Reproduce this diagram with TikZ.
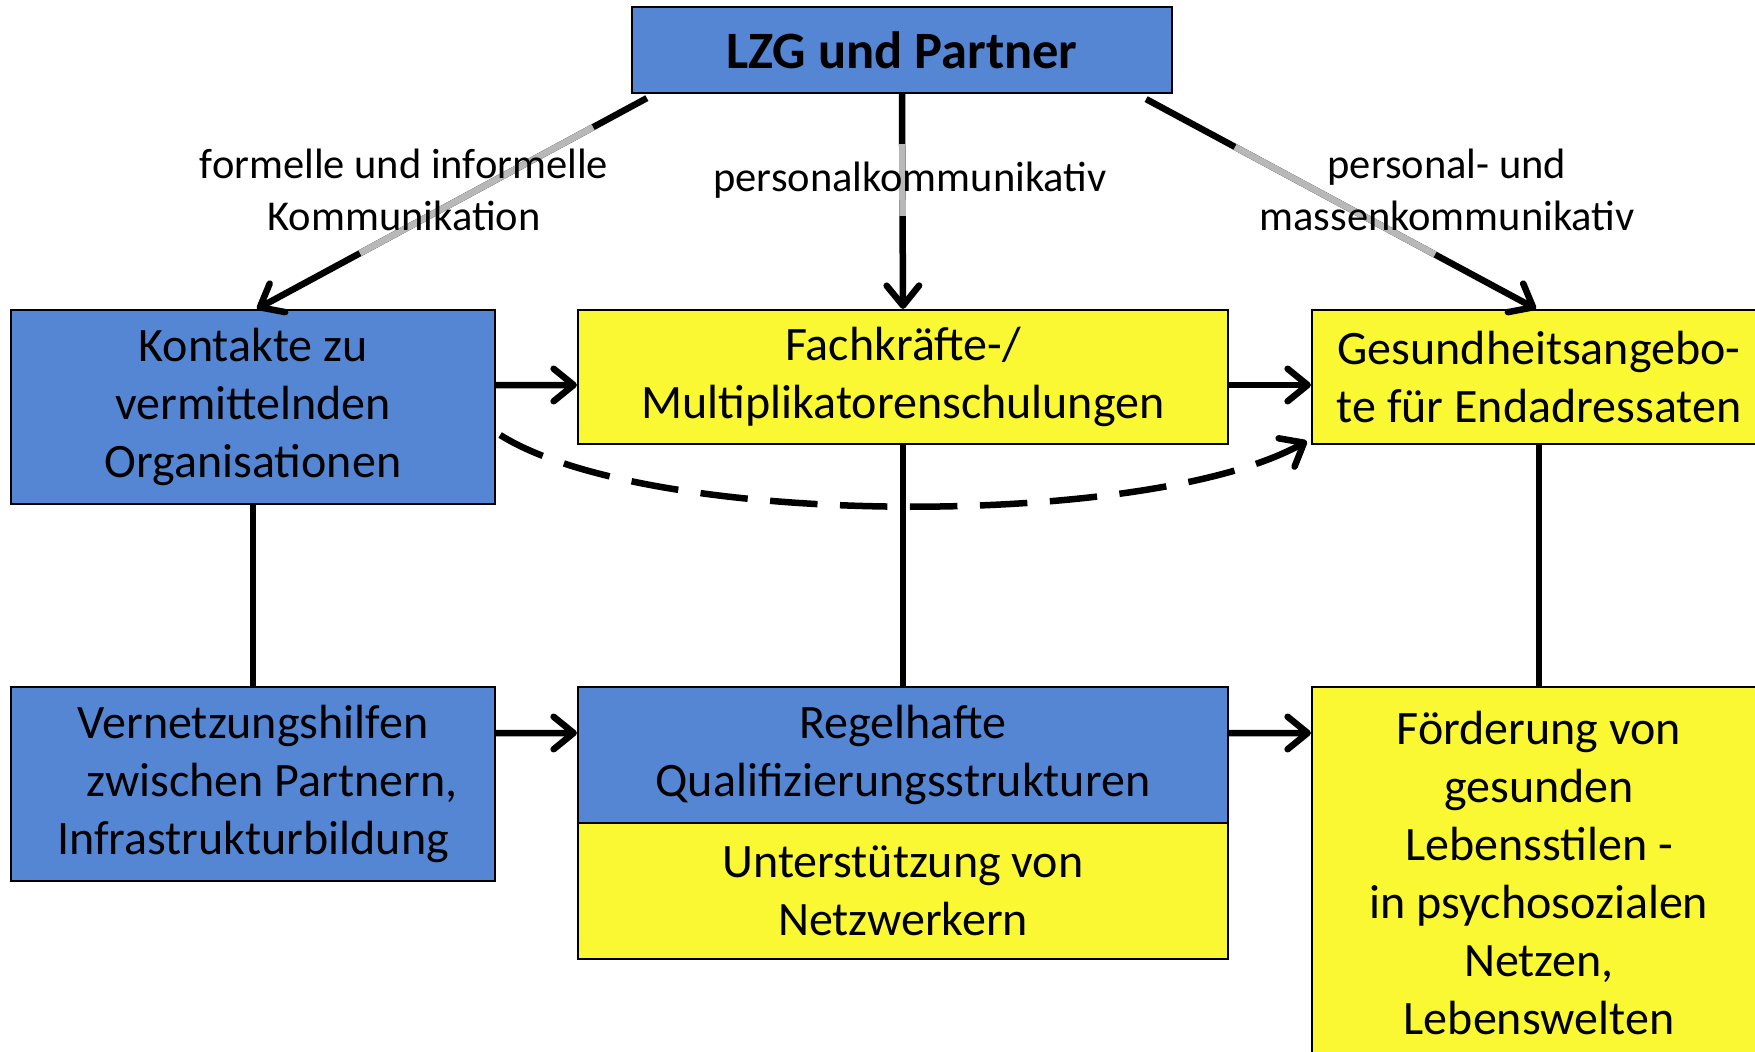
\documentclass[tikz,border=0pt]{standalone}
\usepackage{fontspec}
\setmainfont{Carlito}
\usetikzlibrary{arrows.meta,calc}
\definecolor{boxblue}{RGB}{84,134,212}
\definecolor{boxyellow}{RGB}{250,248,50}
\begin{document}
\begin{tikzpicture}[x=0.4pt,y=-0.4pt,
  bluebox/.style={draw=black,line width=0.9pt,fill=boxblue,inner sep=0pt,align=center,
    font=\fontsize{19.2pt}{23.2pt}\selectfont},
  yellowbox/.style={draw=black,line width=0.9pt,fill=boxyellow,inner sep=0pt,align=center,
    font=\fontsize{19.2pt}{23.2pt}\selectfont},
  txtdown/.style={execute at begin node={\rule{0pt}{19.5pt}}},
  lbl/.style={align=center,inner sep=0pt,font=\fontsize{17pt}{20.6pt}\selectfont},
  arr/.style={line width=2.6pt,-{Straight Barb[length=8pt,width=13pt,line cap=round,line join=round]}},
  conn/.style={line width=2.4pt},
  grayseg/.style={line width=2.6pt,draw=black!28},
  dashline/.style={line width=2.6pt,dash pattern=on 19pt off 9pt}]
\useasboundingbox (0,0) rectangle (1755,1052);
\clip (0,0) rectangle (1755,1052);
% boxes
\node[bluebox,minimum width=216pt,minimum height=34.4pt,font=\fontsize{21pt}{25pt}\selectfont\bfseries] (lzg) at (902,50) {LZG und Partner};
\node[bluebox,txtdown,minimum width=193.6pt,minimum height=77.6pt] (kont) at (253,407) {Kontakte zu\\vermittelnden\\Organisationen};
\node[yellowbox,txtdown,minimum width=260pt,minimum height=53.6pt] (fach) at (903,377) {Fachkräfte-/\\Multiplikatorenschulungen};
\node[yellowbox,txtdown,minimum width=181.6pt,minimum height=53.6pt] (gesund) at (1539,377) {Gesundheitsangebo-\\te für Endadressaten};
\node[bluebox,txtdown,minimum width=193.6pt,minimum height=77.6pt] (vern) at (253,784) {Vernetzungshilfen\\\hspace*{0.8em}zwischen Partnern,\\Infrastrukturbildung};
\node[bluebox,txtdown,minimum width=260pt,minimum height=54.4pt] (regel) at (903,755) {Regelhafte\\Qualifizierungsstrukturen};
\node[yellowbox,txtdown,minimum width=260pt,minimum height=54.4pt] (unter) at (903,891) {Unterstützung von\\Netzwerkern};
\node[yellowbox,minimum width=181.6pt,minimum height=148.8pt] (foerd) at (1539,873) {Förderung von\\gesunden\\Lebensstilen -\\in psychosozialen\\Netzen,\\Lebenswelten};
% top arrows
\coordinate (ls) at ([shift={(6.4pt,-1.6pt)}]lzg.south west);
\coordinate (le) at ([xshift=1.6pt]kont.north);
\coordinate (ms) at (lzg.south);
\coordinate (me) at (fach.north);
\coordinate (rs) at ([shift={(-10.8pt,-2pt)}]lzg.south east);
\coordinate (re) at ([xshift=-1.2pt]gesund.north);
\draw[arr] (ls) -- (le);
\draw[arr] (ms) -- (me);
\draw[arr] (rs) -- (re);
\draw[grayseg] ($(ls)!0.138!(le)$) -- ($(ls)!0.736!(le)$);
\draw[grayseg] ($(ms)!0.233!(me)$) -- ($(ms)!0.567!(me)$);
\draw[grayseg] ($(rs)!0.228!(re)$) -- ($(rs)!0.741!(re)$);
% labels
\node[lbl] (l1) at (404,190) {formelle und informelle\\Kommunikation};
\node[lbl] (l2) at (910,180) {personalkommunikativ};
\node[lbl] (l3) at (1447,190) {personal- und\\massenkommunikativ};
% horizontal arrows
\draw[arr] ([yshift=8.8pt]kont.east) -- ([yshift=-3.2pt]fach.west);
\draw[arr] ([yshift=-3.2pt]fach.east) -- ([yshift=-3.2pt]gesund.west);
\draw[arr] ([yshift=20.4pt]vern.east) -- ([yshift=8.8pt]regel.west);
\draw[arr] ([yshift=8.8pt]regel.east) -- ([yshift=56pt]foerd.west);
% vertical connections
\draw[conn] (kont.south) -- (vern.north);
\draw[conn] (fach.south) -- (regel.north);
\draw[conn] (gesund.south) -- (foerd.north);
% dashed curve
\coordinate (ds) at ([shift={(1.6pt,-11.2pt)}]kont.east);
\coordinate (de) at ([shift={(-1.6pt,1.6pt)}]gesund.south west);
\draw[dashline,arr] (ds) .. controls (650,529) and (1150,529) .. (de);
\end{tikzpicture}
\end{document}
